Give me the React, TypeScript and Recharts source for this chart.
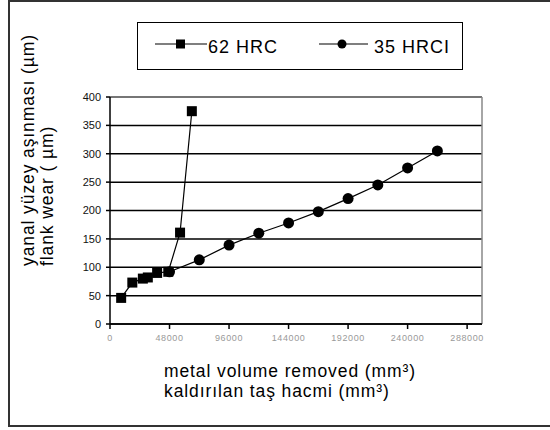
import React from 'react';
import { LineChart, Line, XAxis, YAxis, CartesianGrid, Legend, ReferenceLine } from 'recharts';

// 62 HRC (squares)
const hrc62X = [9000, 18000, 26500, 30500, 38000, 47000, 56500, 66000];
const hrc62Y = [46, 73, 80, 82, 90, 92, 161, 375];
// 35 HRCI (circles)
const hrci35X = [48000, 72000, 96000, 120000, 144000, 168000, 192000, 216000, 240000, 264000];
const hrci35Y = [92, 113, 139, 160, 178, 198, 221, 245, 275, 305];

const xTicks = [0, 48000, 96000, 144000, 192000, 240000, 288000];
const yTicks = [0, 50, 100, 150, 200, 250, 300, 350, 400];

const seriesNames = ['62 HRC', '35 HRCI'];
const yTitle = ['yanal yüzey aşınması (µm)', 'flank wear ( µm)'];
const xTitle = ['metal volume removed (mm³)', 'kaldırılan taş hacmi (mm³)'];

const hrc62 = hrc62X.map((x, i) => ({ x, y: hrc62Y[i] }));
const hrci35 = hrci35X.map((x, i) => ({ x, y: hrci35Y[i] }));

const FONT = '"Liberation Sans", Arial, sans-serif';

const SquareDot = (props: any) => {
  const { cx, cy, index } = props;
  return <rect key={`sq-${index}`} x={cx - 5} y={cy - 5} width={10} height={10} fill="#000" />;
};

const renderLegend = () => (
  <div style={{ width: 326, height: 48, border: '1.5px solid #000', boxSizing: 'border-box', background: '#fff' }}>
    <svg width={323} height={45} style={{ display: 'block' }}>
      <line x1={17} x2={69} y1={21} y2={21} stroke="#000" strokeWidth={1.2} />
      <rect x={38} y={16.5} width={9} height={9} fill="#000" />
      <text x={70} y={30} fontSize={18} letterSpacing={1} fill="#000" fontFamily={FONT}>{seriesNames[0]}</text>
      <line x1={181} x2={230} y1={21} y2={21} stroke="#000" strokeWidth={1.2} />
      <circle cx={204} cy={21} r={4.5} fill="#000" />
      <text x={236} y={30} fontSize={18} letterSpacing={1} fill="#000" fontFamily={FONT}>{seriesNames[1]}</text>
    </svg>
  </div>
);

export default function App() {
  return (
    <div style={{ position: 'absolute', left: 0, top: 0, width: 550, height: 430, background: '#fff', overflow: 'hidden', fontFamily: FONT }}>
      {/* outer frame */}
      <div style={{ position: 'absolute', left: 8, top: 0, width: 580, height: 427, border: '2px solid #333', boxSizing: 'border-box' }} />
      <LineChart width={550} height={430} margin={{ top: 97, right: 68, left: 70, bottom: 76 }}>
        <CartesianGrid vertical={false} stroke="#000" strokeWidth={1.5} />
        <XAxis
          type="number"
          dataKey="x"
          domain={[0, 300000]}
          ticks={xTicks}
          allowDataOverflow
          height={30}
          axisLine={{ stroke: '#000', strokeWidth: 1.5 }}
          tickLine={{ stroke: '#000', strokeWidth: 1.5 }}
          tickSize={5}
          tickMargin={6}
          tick={{ fill: '#999', fontSize: 9, letterSpacing: 0.6, fontFamily: FONT }}
        />
        <YAxis
          type="number"
          dataKey="y"
          domain={[0, 400]}
          ticks={yTicks}
          width={40}
          axisLine={{ stroke: '#000', strokeWidth: 1.5 }}
          tickLine={{ stroke: '#000', strokeWidth: 1.5 }}
          tickSize={4}
          tickMargin={5}
          tick={{ fill: '#111', fontSize: 11, fontFamily: FONT }}
        />
        <ReferenceLine y={400} stroke="#888" strokeWidth={1.5} />
        <ReferenceLine x={300000} stroke="#888" strokeWidth={1.5} />
        <Legend
          layout="horizontal"
          verticalAlign="middle"
          align="center"
          content={renderLegend}
          wrapperStyle={{ position: 'absolute', left: 137, top: 22, width: 326, height: 48 }}
        />
        <Line
          data={hrc62}
          dataKey="y"
          name={seriesNames[0]}
          stroke="#000"
          strokeWidth={1.2}
          dot={SquareDot}
          isAnimationActive={false}
        />
        <Line
          data={hrci35}
          dataKey="y"
          name={seriesNames[1]}
          stroke="#000"
          strokeWidth={1.2}
          dot={{ r: 5.5, fill: '#000', stroke: '#000', strokeWidth: 0 }}
          isAnimationActive={false}
        />
      </LineChart>
      {/* axis titles */}
      <svg width={550} height={430} style={{ position: 'absolute', left: 0, top: 0, pointerEvents: 'none' }}>
        <text transform="translate(34,266) rotate(-90)" fontSize={17.5} letterSpacing={0.9} fill="#000" fontFamily={FONT}>{yTitle[0]}</text>
        <text transform="translate(53,266) rotate(-90)" fontSize={17.5} letterSpacing={0.9} fill="#000" fontFamily={FONT}>{yTitle[1]}</text>
        <text x={164} y={377} fontSize={17.5} letterSpacing={0.9} fill="#000" fontFamily={FONT}>{xTitle[0]}</text>
        <text x={164} y={397} fontSize={17.5} letterSpacing={0.9} fill="#000" fontFamily={FONT}>{xTitle[1]}</text>
      </svg>
    </div>
  );
}
